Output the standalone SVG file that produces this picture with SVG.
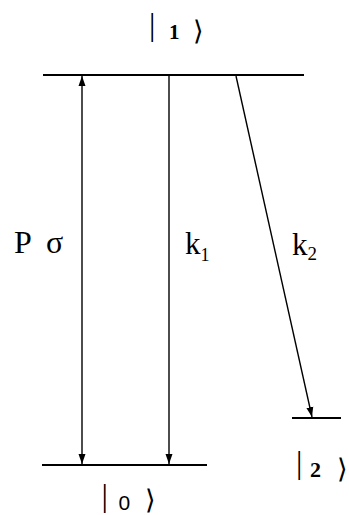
<svg xmlns="http://www.w3.org/2000/svg" width="349" height="515" viewBox="0 0 349 515">
<defs>
<marker id="ah" viewBox="0 0 10 10" refX="10" refY="5" markerWidth="10" markerHeight="10" markerUnits="userSpaceOnUse" orient="auto-start-reverse">
<path d="M0,1.5 L10,5 L0,8.5 Z" fill="#000"/>
</marker>
<style>
.lvl{stroke:#000;stroke-width:2;fill:none}
.ar{stroke:#000;stroke-width:1.4;fill:none}
.t{font-family:"Liberation Serif","Times New Roman",serif;fill:#000}
.bar{font-family:"Liberation Serif","Times New Roman",serif;fill:#000;font-size:32px}
.ang{font-family:"Liberation Sans",Arial,sans-serif;fill:#000;font-size:27px}
.dig{font-family:"Liberation Sans",Arial,sans-serif;fill:#000;font-size:21px}
</style>
</defs>
<rect width="349" height="515" fill="#fff"/>
<g id="level1">
<line class="lvl" x1="43" y1="75" x2="304" y2="75"/>
<text class="bar" x="149" y="35">|</text>
<text class="t" x="169" y="39" font-size="21" font-weight="bold">1</text>
<text class="ang" x="193" y="40">⟩</text>
</g>
<g id="level0">
<line class="lvl" x1="42" y1="465" x2="207" y2="465"/>
<text class="bar" x="101.5" y="506">|</text>
<text class="dig" x="118.5" y="510">0</text>
<text class="ang" x="145" y="509">⟩</text>
</g>
<g id="level2">
<line class="lvl" x1="292" y1="418" x2="341" y2="418"/>
<text class="bar" x="296" y="473">|</text>
<text class="t" x="310" y="477" font-size="22" font-weight="bold">2</text>
<text class="ang" x="337" y="478">⟩</text>
</g>
<g id="connectors">
<line class="ar" x1="82" y1="76" x2="82" y2="464" marker-start="url(#ah)" marker-end="url(#ah)"/>
<line class="ar" x1="169" y1="76" x2="169" y2="464" marker-end="url(#ah)"/>
<line class="ar" x1="236" y1="76" x2="312" y2="417" marker-end="url(#ah)"/>
</g>
<g id="labels">
<text class="t" y="253" font-size="32"><tspan x="14">P</tspan><tspan x="46">σ</tspan></text>
<text class="t" x="185" y="254" font-size="31">k<tspan font-size="18" dy="7">1</tspan></text>
<text class="t" x="292" y="255" font-size="31">k<tspan font-size="19" dy="5">2</tspan></text>
</g>
</svg>
